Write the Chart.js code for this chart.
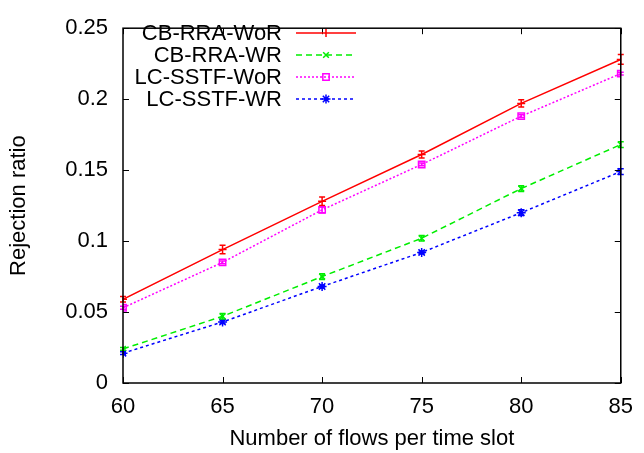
<!DOCTYPE html>
<html>
<head>
<meta charset="utf-8">
<script src="https://cdn.jsdelivr.net/npm/chart.js@4"></script>
<style>
  html, body { margin: 0; padding: 0; background: #fff; }
  #wrap { width: 644px; height: 453px; }
</style>
</head>
<body>
<div id="wrap"><canvas id="c" width="644" height="453"></canvas></div>
<script>
/* rejection ratio vs flows per slot */
const flows = [60, 65, 70, 75, 80, 85];

const cbWoR   = [0.059, 0.094, 0.128, 0.161, 0.197, 0.228];
const cbWR    = [0.024, 0.047, 0.075, 0.102, 0.137, 0.168];
const lcWoR   = [0.053, 0.085, 0.122, 0.154, 0.188, 0.218];
const lcWR    = [0.021, 0.043, 0.068, 0.092, 0.120, 0.149];

const cbWoRErr = [0.002, 0.003, 0.003, 0.0025, 0.0025, 0.0034];
const cbWRErr  = [0.001, 0.002, 0.002, 0.002, 0.002, 0.002];
const lcWoRErr = [0.001, 0.001, 0.002, 0.001, 0.001, 0.001];
const lcWRErr  = [0.001, 0.001, 0.001, 0.001, 0.002, 0.002];

const FONT = "'Liberation Sans', Arial, sans-serif";
const FS = 22;

const pts = (ys) => flows.map((x, i) => ({ x, y: ys[i] }));

const series = [
  { label: "CB-RRA-WoR",  data: cbWoR, err: cbWoRErr, color: "#ff0000", dash: [],     style: "line",     r: 4 },
  { label: "CB-RRA-WR",   data: cbWR,  err: cbWRErr,  color: "#00ee00", dash: [6, 4], style: "crossRot", r: 4 },
  { label: "LC-SSTF-WoR", data: lcWoR, err: lcWoRErr, color: "#ff00ff", dash: [2, 2], style: "rect",     r: 4.5 },
  { label: "LC-SSTF-WR",  data: lcWR,  err: lcWRErr,  color: "#0000ff", dash: [3, 3], style: "star",     r: 4.5 },
];

/* ── error bars ── */
const errorBars = {
  id: "errorBars",
  afterDatasetsDraw(chart) {
    const { ctx, scales: { x, y } } = chart;
    ctx.save();
    ctx.lineWidth = 1.5;
    series.forEach(s => {
      ctx.strokeStyle = s.color;
      s.data.forEach((v, i) => {
        const px = x.getPixelForValue(flows[i]);
        const top = y.getPixelForValue(v + s.err[i]);
        const bot = y.getPixelForValue(v - s.err[i]);
        ctx.beginPath();
        ctx.moveTo(px, top); ctx.lineTo(px, bot);
        ctx.moveTo(px - 3, top); ctx.lineTo(px + 3, top);
        ctx.moveTo(px - 3, bot); ctx.lineTo(px + 3, bot);
        ctx.stroke();
      });
    });
    ctx.restore();
  },
};

/* ── frame + inward ticks (gnuplot look) ── */
const frame = {
  id: "frame",
  afterDraw(chart) {
    const { ctx, chartArea: a, scales: { x, y } } = chart;
    ctx.save();
    ctx.strokeStyle = "#000";
    ctx.lineWidth = 1.5;
    ctx.strokeRect(a.left, a.top, a.right - a.left, a.bottom - a.top);
    ctx.lineWidth = 1;
    ctx.beginPath();
    x.ticks.forEach(t => {
      const px = Math.round(x.getPixelForValue(t.value)) + 0.5;
      ctx.moveTo(px, a.bottom); ctx.lineTo(px, a.bottom - 6);
      ctx.moveTo(px, a.top);    ctx.lineTo(px, a.top + 6);
    });
    y.ticks.forEach(t => {
      const py = Math.round(y.getPixelForValue(t.value)) + 0.5;
      ctx.moveTo(a.left, py);  ctx.lineTo(a.left + 6, py);
      ctx.moveTo(a.right, py); ctx.lineTo(a.right - 6, py);
    });
    ctx.stroke();
    ctx.restore();
  },
};

/* ── legend inside top-left ── */
const keyBox = {
  id: "keyBox",
  afterDraw(chart) {
    const { ctx } = chart;
    ctx.save();
    ctx.font = `${FS}px ${FONT}`;
    ctx.textAlign = "right";
    ctx.textBaseline = "middle";
    series.forEach((s, i) => {
      const yy = 33 + i * 22;
      ctx.fillStyle = "#000";
      ctx.fillText(s.label, 282, yy + 1);
      ctx.strokeStyle = s.color;
      ctx.fillStyle = s.style === "rect" ? "rgba(0,0,0,0)" : s.color;
      ctx.lineWidth = 1.5;
      ctx.setLineDash(s.dash);
      ctx.beginPath();
      ctx.moveTo(296, yy); ctx.lineTo(356, yy);
      ctx.stroke();
      ctx.setLineDash([]);
      if (i === 0) {
        ctx.beginPath();
        ctx.moveTo(326, yy - 4); ctx.lineTo(326, yy + 4);
        ctx.stroke();
      } else {
        Chart.helpers.drawPoint(ctx, {
          pointStyle: s.style, radius: s.r, borderWidth: 1.5, rotation: 0,
        }, 326, yy);
      }
    });
    ctx.restore();
  },
};

new Chart(document.getElementById("c"), {
  type: "line",
  data: {
    datasets: series.map(s => ({
      label: s.label,
      data: pts(s.data),
      borderColor: s.color,
      backgroundColor: s.style === "rect" ? "rgba(0,0,0,0)" : s.color,
      pointBackgroundColor: s.style === "rect" ? "rgba(0,0,0,0)" : s.color,
      pointBorderColor: s.color,
      borderWidth: 1.5,
      borderDash: s.dash,
      pointStyle: s.style,
      pointRadius: s.r,
      pointBorderWidth: 1.5,
      tension: 0,
    })),
  },
  options: {
    responsive: false,
    animation: false,
    layout: { padding: { left: 0, top: 15, right: 17, bottom: 0 } },
    plugins: { legend: { display: false }, tooltip: { enabled: false } },
    scales: {
      x: {
        type: "linear", min: 60, max: 85,
        afterFit: s => { s.height = 70; },
        grid: { display: false, drawTicks: false },
        border: { display: false },
        ticks: { stepSize: 5, color: "#000", padding: 11, font: { family: FONT, size: FS } },
        title: { display: true, text: "Number of flows per time slot", color: "#000",
                 font: { family: FONT, size: FS }, padding: { top: 0, bottom: 1 } },
      },
      y: {
        type: "linear", min: 0, max: 0.25,
        afterFit: s => { s.width = 123; },
        grid: { display: false, drawTicks: false },
        border: { display: false },
        ticks: { stepSize: 0.05, color: "#000", padding: 15, font: { family: FONT, size: FS },
                 callback: v => String(+v.toFixed(2)) },
        title: { display: true, text: "Rejection ratio", color: "#000",
                 font: { family: FONT, size: FS }, padding: { top: 6, bottom: 0 } },
      },
    },
  },
  plugins: [errorBars, frame, keyBox],
});
</script>
</body>
</html>
